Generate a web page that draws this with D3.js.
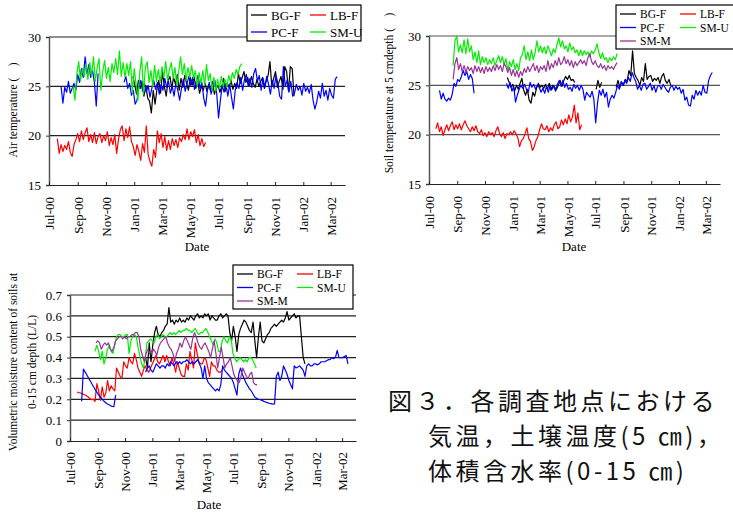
<!DOCTYPE html>
<html>
<head>
<meta charset="utf-8">
<script src="https://cdn.jsdelivr.net/npm/d3@7"></script>
<style>
  body { margin: 0; background: #fff; }
  svg { display: block; }
  .tick text { font-family: "Liberation Serif", "Times New Roman", serif; font-size: 13px; fill: #000; }
  .lbl { font-family: "Liberation Serif", "Times New Roman", serif; font-size: 13px; fill: #000; }
  .ytitle { font-family: "Liberation Serif", "Times New Roman", serif; font-size: 11.5px; fill: #000; }
  .cap { font-family: "Noto Sans CJK JP", sans-serif; font-size: 24px; letter-spacing: 3.5px; fill: #111; }
</style>
</head>
<body>
<svg id="chart" width="733" height="513"></svg>
<script>
// day 0 = 1 Jul 2000, every series is sampled every 4 days from its start day
const START = new Date(2000, 6, 1);
const END = new Date(2002, 3, 1);
const STEP = 4;
const monthTicks = ['2000-07-01', '2000-09-01', '2000-11-01', '2001-01-01', '2001-03-01', '2001-05-01',
  '2001-07-01', '2001-09-01', '2001-11-01', '2002-01-01', '2002-03-01'];

// ---- air temperature (deg C) ----
const airBGF = [26.0, 25.2, 24.2, 25.6, 24.8, 25.5, 24.0, 25.1, 23.8, 23.5,
  22.3, 24.6, 23.2, 24.7, 25.6, 24.3, 26.5, 25.0, 24.0, 25.6,
  26.0, 24.8, 25.9, 25.2, 26.2, 24.6, 25.8, 24.9, 26.1, 25.3,
  24.6, 25.9, 25.1, 26.0, 24.8, 25.5, 24.3, 25.0, 24.6, 25.3,
  24.5, 25.2, 24.5, 25.5, 24.2, 24.8, 25.1, 24.4, 25.0, 25.8,
  24.5, 25.3, 24.9, 25.6, 24.7, 25.3, 24.8, 26.3, 25.3, 25.9,
  26.5, 25.4, 25.9, 25.1, 26.0, 25.3, 24.9, 25.7, 25.0, 25.5,
  25.9, 24.8, 25.6, 26.1, 27.5, 25.0, 25.8, 26.5, 24.9, 25.5,
  26.0, 24.7, 27.0, 26.5, 24.5, 27.0, 26.8, 24.0];
const airLBF = [19.7, 18.2, 19.1, 18.4, 19.0, 18.6, 19.4, 18.3, 17.9, 19.1,
  19.6, 20.2, 19.4, 20.5, 19.6, 20.3, 20.8, 19.4, 20.1, 19.3,
  20.3, 19.2, 19.9, 20.2, 19.3, 20.0, 19.5, 20.4, 19.0, 19.8,
  19.1, 20.1, 18.2, 19.6, 20.6, 21.0, 19.5, 20.7, 19.8, 20.9,
  19.4, 18.9, 18.0, 19.1, 18.4, 17.5, 19.2, 18.3, 21.0, 18.1,
  17.4, 16.9, 18.6, 17.8, 20.5, 19.3, 20.2, 18.8, 19.9, 18.5,
  19.5, 18.6, 19.7, 19.0, 19.6, 18.8, 19.8, 19.4, 20.1, 19.6,
  20.7, 19.6, 20.4, 19.9, 20.6, 19.3, 20.1, 19.0, 19.7, 18.9,
  19.3];
const airPCF1 = [25.0, 23.3, 24.9, 24.4, 25.5, 24.3, 24.8, 25.3, 24.6, 26.2,
  25.4, 26.8, 25.9, 28.0, 26.3, 27.2, 25.9, 26.6, 25.4, 23.0, 26.3];
const airPCF2 = [25.4, 26.0, 24.8, 25.3, 24.1, 24.6, 23.2, 23.6, 24.9, 25.6,
  24.5, 25.3, 24.4, 25.1, 23.9, 24.8, 25.6, 24.7, 25.4, 24.2,
  25.2, 24.6, 25.8, 24.9, 25.5, 24.3, 25.0, 24.0, 25.4, 24.6,
  23.6, 24.8, 25.7, 24.5, 25.3, 26.0, 25.1, 25.9, 24.7, 25.5,
  26.1, 24.8, 25.4, 23.8, 23.0, 24.6, 25.4, 24.2, 25.0, 25.6,
  24.3, 21.8, 23.6, 25.1, 24.4, 25.3, 24.0, 25.2, 23.9, 22.7,
  24.6, 25.4, 24.8, 25.9, 24.6, 25.7, 26.2, 25.0, 25.8, 24.9,
  26.3, 26.8, 25.5, 26.1, 24.6, 25.8, 24.9, 26.0, 25.2, 24.2,
  25.6, 24.8, 26.1, 25.3, 24.0, 23.7, 27.0, 25.0, 25.6, 24.4,
  25.5, 24.0, 24.3, 25.2, 24.6, 25.0, 24.1, 25.3, 24.5, 24.9,
  24.3, 25.2, 23.6, 22.7, 23.4, 24.5, 23.8, 25.3, 24.0, 24.6,
  23.6, 24.8, 24.1, 23.8, 25.7, 26.0];
const airSMU = [25.0, 23.6, 26.2, 27.5, 25.6, 26.8, 26.0, 27.2, 25.7, 27.4,
  26.1, 28.0, 25.5, 26.9, 27.8, 24.6, 26.5, 27.6, 25.8, 26.9,
  25.5, 27.3, 26.4, 27.8, 26.2, 28.6, 26.0, 27.4, 25.9, 27.3,
  26.1, 27.5, 24.3, 26.8, 25.2, 23.6, 26.4, 28.0, 24.2, 26.9,
  27.5, 25.4, 26.6, 25.0, 27.1, 25.5, 26.7, 25.4, 27.0, 25.9,
  27.5, 25.6, 26.7, 27.4, 25.8, 26.9, 25.1, 26.5, 28.0, 26.2,
  27.3, 25.6, 26.9, 25.9, 27.1, 25.8, 26.6, 25.0, 26.4, 25.3,
  26.6, 25.1, 27.2, 25.6, 26.3, 24.6, 25.9, 24.5, 25.7, 24.8,
  26.0, 25.0, 25.7, 24.9, 26.1, 25.4, 26.4, 25.8, 26.7, 26.2,
  27.0, 27.3];

// ---- soil temperature at 5 cm (deg C) ----
const soilBGF1 = [25.8, 25.3, 24.8, 25.1, 24.4, 25.0, 24.6, 25.2, 25.7, 24.5,
  24.0, 24.6, 23.5, 23.2, 24.3, 23.9, 24.7, 25.2, 24.8, 25.0,
  24.7, 25.1, 24.6, 25.2, 24.5, 25.0, 24.8, 24.6, 25.0, 25.5,
  24.9, 25.5, 25.9, 25.6, 26.0, 25.5, 25.6, 25.3];
const soilBGF2 = [24.6, 25.5, 24.8, 25.3];
const soilBGF3 = [24.8, 25.5, 24.8, 25.3, 25.0, 25.6, 25.4, 26.5, 26.0, 28.5,
  26.2, 25.8, 25.5, 25.0, 25.8, 25.4, 27.2, 25.6, 25.9, 26.0,
  25.4, 25.7, 25.5, 25.8, 25.2, 25.9, 26.2, 25.5, 25.2, 25.6, 25.0];
const soilLBF = [20.6, 21.2, 20.3, 20.8, 19.9, 20.5, 21.0, 20.4, 20.9, 21.3,
  20.5, 21.0, 20.6, 21.1, 20.5, 21.0, 21.4, 20.9, 20.6, 20.3,
  20.8, 20.4, 20.9, 20.3, 20.1, 20.5, 19.9, 20.2, 19.8, 20.3,
  20.0, 20.2, 19.8, 20.4, 20.8, 20.1, 19.8, 20.2, 19.6, 20.1,
  20.0, 20.3, 20.0, 20.4, 20.1, 19.7, 18.8, 19.4, 19.6, 20.1,
  20.7, 19.6, 19.3, 18.4, 18.8, 19.4, 19.8, 20.5, 21.1, 20.6,
  20.5, 20.9, 20.3, 20.7, 20.4, 21.0, 21.3, 20.6, 20.8, 21.5,
  21.0, 21.6, 21.1, 22.0, 21.3, 21.8, 23.0, 21.2, 22.2, 20.5,
  21.0];
const soilPCF1 = [24.5, 23.6, 24.2, 23.6, 23.4, 23.7, 23.5, 24.1, 25.2, 24.9,
  25.6, 25.4, 25.9, 26.5, 26.0, 26.4, 25.6, 26.1, 25.7, 24.2];
const soilPCF2 = [25.2, 24.7, 25.3, 24.4, 24.9, 23.3, 24.0, 24.6, 25.0, 24.7,
  25.1, 24.6, 24.3, 25.3, 24.8, 25.1, 24.6, 25.0, 24.8, 24.3,
  24.7, 24.2, 24.9, 24.3, 25.0, 24.6, 24.9, 24.4, 25.1, 25.5,
  24.9, 25.5, 24.8, 25.2, 24.6, 24.8, 24.4, 25.1, 24.7, 25.0,
  24.5, 25.0, 24.6, 23.5, 24.3, 24.0, 23.8, 24.4, 23.6, 21.2,
  23.2, 24.5, 24.0, 24.6, 23.8, 24.3, 22.8, 23.6, 24.0, 23.7,
  24.3, 25.0, 24.6, 25.4, 25.0, 25.5, 25.2, 25.8, 25.4, 26.3,
  25.8, 25.4, 24.6, 25.0, 24.5, 25.1, 25.2, 24.6, 24.9, 25.2,
  24.5, 25.0, 24.3, 24.9, 25.0, 24.6, 25.1, 24.8, 24.5, 24.3,
  24.8, 25.0, 24.5, 24.9, 24.6, 24.8, 24.2, 24.6, 23.5, 23.8,
  23.0, 22.9, 24.0, 23.6, 24.5, 24.0, 24.4, 24.0, 25.0, 24.3,
  24.2, 25.5, 26.0, 26.3];
const soilSMU = [27.0, 29.5, 30.0, 28.4, 29.1, 28.3, 29.6, 28.2, 29.7, 28.4,
  29.0, 27.6, 28.4, 27.3, 28.5, 27.1, 27.9, 27.3, 27.8, 27.1,
  27.6, 27.2, 27.8, 27.0, 27.5, 28.0, 27.3, 27.9, 27.1, 27.7,
  26.5, 27.4, 26.9, 27.6, 26.6, 27.2, 26.5, 27.8, 28.1, 29.0,
  27.6, 28.4, 27.5, 28.6, 27.6, 28.3, 29.5, 28.4, 29.0, 28.3,
  28.9, 28.2, 29.0, 28.5, 28.0, 28.7, 28.3, 29.1, 29.8, 28.9,
  29.5, 28.7, 29.0, 28.4, 29.3, 28.6, 28.9, 28.3, 28.6, 28.0,
  28.6, 28.0, 28.5, 28.1, 28.4, 27.9, 28.5, 28.2, 28.6, 29.2,
  28.3, 27.7, 28.3, 27.6, 27.8, 27.3, 27.8, 27.5, 27.9, 27.6,
  28.2];
const soilSMM = [25.6, 27.2, 27.8, 26.6, 27.2, 26.4, 27.0, 26.3, 26.9, 26.5,
  26.8, 26.2, 27.0, 26.4, 26.9, 26.3, 26.8, 26.2, 26.9, 26.4,
  26.8, 26.4, 27.0, 26.5, 27.1, 26.6, 27.0, 26.4, 27.2, 26.9,
  26.3, 26.8, 26.0, 26.6, 25.9, 26.5, 25.8, 26.4, 26.0, 26.7,
  26.3, 26.9, 26.4, 26.8, 27.2, 26.5, 27.0, 26.3, 26.9, 26.6,
  27.0, 26.4, 27.5, 26.6, 27.2, 26.8, 27.5, 27.0, 27.8, 27.1,
  27.3, 27.9, 27.2, 27.6, 27.0, 27.5, 26.8, 27.4, 27.0, 27.3,
  27.6, 27.2, 27.5, 27.0, 27.8, 28.2, 27.4, 27.1, 27.5, 27.0,
  26.8, 27.2, 26.7, 27.0, 26.5, 27.0, 26.7, 26.9, 26.6, 27.0,
  27.3];

// ---- volumetric moisture content 0-15 cm (L/L) ----
const moistBGF = [0.40, 0.35, 0.47, 0.38, 0.46, 0.52, 0.55, 0.51, 0.50, 0.52,
  0.53, 0.55, 0.56, 0.64, 0.57, 0.58, 0.56, 0.58, 0.57, 0.59,
  0.57, 0.58, 0.57, 0.59, 0.58, 0.60, 0.59, 0.58, 0.60, 0.61,
  0.59, 0.60, 0.59, 0.61, 0.60, 0.61, 0.58, 0.60, 0.59, 0.58,
  0.58, 0.60, 0.61, 0.59, 0.60, 0.61, 0.60, 0.52, 0.48, 0.55,
  0.50, 0.43, 0.51, 0.54, 0.56, 0.58, 0.57, 0.55, 0.53, 0.52,
  0.57, 0.48, 0.40, 0.50, 0.57, 0.48, 0.47, 0.49, 0.51, 0.52,
  0.54, 0.55, 0.56, 0.55, 0.56, 0.57, 0.58, 0.57, 0.59, 0.62,
  0.58, 0.59, 0.60, 0.61, 0.59, 0.60, 0.60, 0.50, 0.40, 0.37];
const moistLBF = [0.235, 0.232, 0.23, 0.226, 0.222, 0.218, 0.212, 0.205, 0.198, 0.20,
  0.19, 0.275, 0.24, 0.195, 0.26, 0.21, 0.23, 0.29, 0.24, 0.265,
  0.25, 0.24, 0.35, 0.33, 0.31, 0.30, 0.38, 0.36, 0.35, 0.40,
  0.38, 0.37, 0.42, 0.39, 0.35, 0.33, 0.31, 0.34, 0.36, 0.34,
  0.33, 0.35, 0.37, 0.39, 0.41, 0.38, 0.37, 0.39, 0.41, 0.38,
  0.41, 0.38, 0.36, 0.40, 0.37, 0.33, 0.38, 0.35, 0.32, 0.31,
  0.31, 0.37, 0.34, 0.43, 0.39, 0.35, 0.47, 0.42, 0.38, 0.37,
  0.37, 0.40, 0.39, 0.35, 0.31, 0.38, 0.36, 0.36, 0.34, 0.33,
  0.33, 0.34];
const moistPCF1 = [0.19, 0.345, 0.33, 0.315, 0.30, 0.285, 0.27, 0.255, 0.24, 0.228,
  0.215, 0.205, 0.195, 0.187, 0.18, 0.175, 0.17, 0.166, 0.165, 0.22];
const moistPCF2 = [0.33, 0.35, 0.36, 0.34, 0.33, 0.35, 0.37, 0.36, 0.35, 0.36,
  0.36, 0.35, 0.37, 0.36, 0.38, 0.37, 0.36, 0.38, 0.37, 0.38,
  0.37, 0.38, 0.38, 0.39, 0.38, 0.37, 0.38, 0.37, 0.38, 0.39,
  0.37, 0.35, 0.30, 0.36, 0.30, 0.28, 0.27, 0.26, 0.25, 0.24,
  0.25, 0.24, 0.27, 0.36, 0.34, 0.33, 0.32, 0.31, 0.30, 0.28,
  0.25, 0.22, 0.32, 0.35, 0.32, 0.30, 0.28, 0.265, 0.25, 0.24,
  0.225, 0.21, 0.205, 0.20, 0.198, 0.195, 0.19, 0.187, 0.184, 0.181,
  0.179, 0.177, 0.178, 0.31, 0.33, 0.29, 0.31, 0.36, 0.34, 0.32,
  0.29, 0.27, 0.25, 0.36, 0.35, 0.355, 0.36, 0.35, 0.34, 0.31,
  0.36, 0.37, 0.36, 0.36, 0.37, 0.37, 0.365, 0.37, 0.38, 0.38,
  0.38, 0.385, 0.39, 0.39, 0.40, 0.395, 0.40, 0.435, 0.40, 0.40,
  0.40, 0.405, 0.41, 0.37];
const moistSMU = [0.43, 0.46, 0.43, 0.39, 0.43, 0.37, 0.40, 0.44, 0.46, 0.43,
  0.42, 0.46, 0.50, 0.51, 0.51, 0.50, 0.50, 0.51, 0.51, 0.42,
  0.48, 0.50, 0.51, 0.50, 0.45, 0.41, 0.37, 0.35, 0.40, 0.47,
  0.48, 0.49, 0.48, 0.47, 0.50, 0.51, 0.49, 0.50, 0.51, 0.50,
  0.50, 0.51, 0.52, 0.51, 0.52, 0.51, 0.52, 0.53, 0.52, 0.53,
  0.53, 0.54, 0.53, 0.53, 0.52, 0.53, 0.54, 0.52, 0.51, 0.52,
  0.52, 0.53, 0.54, 0.52, 0.50, 0.48, 0.46, 0.49, 0.47, 0.43,
  0.43, 0.48, 0.50, 0.48, 0.47, 0.50, 0.49, 0.42, 0.40, 0.38,
  0.39, 0.40, 0.39, 0.38, 0.39, 0.38, 0.40, 0.40, 0.39, 0.37,
  0.35];
const moistSMM = [0.47, 0.48, 0.47, 0.44, 0.46, 0.47, 0.46, 0.47, 0.44, 0.43,
  0.45, 0.48, 0.49, 0.50, 0.50, 0.49, 0.50, 0.49, 0.50, 0.50,
  0.51, 0.51, 0.52, 0.52, 0.50, 0.44, 0.41, 0.38, 0.42, 0.44,
  0.42, 0.43, 0.44, 0.43, 0.41, 0.45, 0.47, 0.48, 0.49, 0.50,
  0.47, 0.45, 0.44, 0.42, 0.38, 0.42, 0.44, 0.47, 0.45, 0.48,
  0.50, 0.48, 0.46, 0.44, 0.49, 0.52, 0.50, 0.47, 0.45, 0.44,
  0.46, 0.47, 0.45, 0.43, 0.40, 0.44, 0.48, 0.42, 0.35, 0.40,
  0.45, 0.40, 0.35, 0.37, 0.38, 0.40, 0.36, 0.32, 0.30, 0.29,
  0.28, 0.31, 0.35, 0.33, 0.31, 0.30, 0.32, 0.33, 0.28, 0.27,
  0.27];

const COLORS = { 'BG-F': '#000000', 'LB-F': '#ff0000', 'PC-F': '#0000ff', 'SM-U': '#00ee00', 'SM-M': '#993399' };

// [site, start day, values]
const airSeries = [['BG-F', 181, airBGF], ['LB-F', 18, airLBF], ['PC-F', 26, airPCF1], ['PC-F', 162, airPCF2], ['SM-U', 52, airSMU]];
const soilSeries = [['BG-F', 172, soilBGF1], ['BG-F', 367, soilBGF2], ['BG-F', 411, soilBGF3], ['LB-F', 15, soilLBF],
  ['PC-F', 23, soilPCF1], ['PC-F', 170, soilPCF2], ['SM-U', 53, soilSMU], ['SM-M', 53, soilSMM]];
const moistSeries = [['BG-F', 169, moistBGF], ['LB-F', 16, moistLBF], ['PC-F', 26, moistPCF1], ['PC-F', 169, moistPCF2],
  ['SM-U', 56, moistSMU], ['SM-M', 58, moistSMM]];

const svg = d3.select('#chart');
const parse = d3.timeParse('%Y-%m-%d');
const fmt = d3.timeFormat('%b-%y');

function toPoints(startDay, values) {
  return values.map((v, i) => ({ date: d3.timeDay.offset(START, startDay + i * STEP), v: v }));
}

function drawPanel(cfg) {
  const x = d3.scaleTime().domain([START, END]).range([cfg.left, cfg.right]);
  const y = d3.scaleLinear().domain(cfg.yDomain).range([cfg.bottom, cfg.top]);
  const g = svg.append('g');

  // gridlines
  g.selectAll('.grid').data(cfg.grid).enter().append('line')
    .attr('x1', cfg.left).attr('x2', cfg.right)
    .attr('y1', (d) => y(d)).attr('y2', (d) => y(d))
    .attr('stroke', cfg.gridColor).attr('stroke-width', 1.2);

  const yAxis = g.append('g').attr('transform', `translate(${cfg.left},0)`)
    .call(d3.axisLeft(y).tickValues(cfg.yTicks).tickFormat(cfg.yFormat).tickSize(3).tickPadding(5));
  yAxis.select('.domain').attr('stroke', '#555').attr('stroke-width', 1.5);
  yAxis.selectAll('.tick line').attr('stroke', '#333');

  const xAxis = g.append('g').attr('transform', `translate(0,${cfg.bottom})`)
    .call(d3.axisBottom(x).tickValues(monthTicks.map(parse)).tickFormat(fmt).tickSizeInner(-3).tickSizeOuter(0));
  xAxis.select('.domain').attr('stroke', '#222').attr('stroke-width', 1.2);
  xAxis.selectAll('.tick line').attr('stroke', '#222');
  xAxis.selectAll('.tick text')
    .attr('transform', 'rotate(-90)')
    .attr('text-anchor', 'end')
    .attr('x', -cfg.labelGap).attr('y', 0).attr('dy', '0.35em');

  const line = d3.line().x((d) => x(d.date)).y((d) => y(d.v));
  cfg.series.forEach(([site, start, values]) => {
    g.append('path').datum(toPoints(start, values))
      .attr('d', line).attr('fill', 'none')
      .attr('stroke', COLORS[site]).attr('stroke-width', 1.2).attr('stroke-linejoin', 'round');
  });

  // axis titles
  cfg.yTitle.forEach((t, i) => {
    g.append('text').attr('class', 'ytitle')
      .attr('transform', `translate(${cfg.yTitleX[i]},${cfg.yTitleY}) rotate(-90)`)
      .attr('text-anchor', 'middle').attr('dy', '0.35em').text(t);
  });
  g.append('text').attr('class', 'lbl').attr('x', cfg.dateX).attr('y', cfg.dateY)
    .attr('text-anchor', 'middle').text('Date');

  // legend
  const lg = cfg.legend;
  g.append('rect').attr('x', lg.x).attr('y', lg.y).attr('width', lg.w).attr('height', lg.h)
    .attr('fill', '#fff').attr('stroke', '#000').attr('stroke-width', 1.2);
  lg.items.forEach((site, i) => {
    const col = i % 2, row = Math.floor(i / 2);
    const lx = lg.x + 4 + col * lg.colW;
    const ly = lg.y + lg.rowTop + row * lg.rowH;
    g.append('line').attr('x1', lx).attr('x2', lx + 16).attr('y1', ly).attr('y2', ly)
      .attr('stroke', COLORS[site]).attr('stroke-width', 1.3);
    g.append('text').attr('class', 'lbl').style('font-size', lg.font + 'px')
      .attr('x', lx + 20).attr('y', ly).attr('dy', '0.35em').text(site);
  });
}

drawPanel({
  left: 49, right: 345, top: 37, bottom: 185, yDomain: [15, 30],
  grid: [20, 25, 30], gridColor: '#222', yTicks: [15, 20, 25, 30], yFormat: d3.format('d'), labelGap: 12,
  series: airSeries,
  yTitle: ['Air temperature (\u2003)'], yTitleX: [13], yTitleY: 110, dateX: 197, dateY: 251,
  legend: { x: 247, y: 5, w: 114, h: 36, colW: 59, rowTop: 10, rowH: 17, font: 13, items: ['BG-F', 'LB-F', 'PC-F', 'SM-U'] }
});

drawPanel({
  left: 429, right: 720, top: 36, bottom: 184, yDomain: [15, 30],
  grid: [20, 25, 30], gridColor: '#555', yTicks: [15, 20, 25, 30], yFormat: d3.format('d'), labelGap: 12,
  series: soilSeries,
  yTitle: ['Soil temperature at 5 cmdepth (\u2003)'], yTitleX: [389], yTitleY: 93, dateX: 574, dateY: 251,
  legend: { x: 616, y: 5, w: 130, h: 44, colW: 60, rowTop: 9, rowH: 13.5, font: 11.5, items: ['BG-F', 'LB-F', 'PC-F', 'SM-U', 'SM-M'] }
});

drawPanel({
  left: 70, right: 356, top: 295, bottom: 441, yDomain: [0, 0.7],
  grid: [0.1, 0.2, 0.3, 0.4, 0.5, 0.6, 0.7], gridColor: '#222', yTicks: [0, 0.1, 0.2, 0.3, 0.4, 0.5, 0.6, 0.7],
  yFormat: (d) => (d === 0 ? '0' : d3.format('.1f')(d)), labelGap: 11,
  series: moistSeries,
  yTitle: ['Volumetric moisture content of soils at', '0-15 cm depth (L/L)'], yTitleX: [13, 32], yTitleY: 362,
  dateX: 209, dateY: 509,
  legend: { x: 233, y: 265, w: 120, h: 44, colW: 60, rowTop: 9, rowH: 13.5, font: 11.5, items: ['BG-F', 'LB-F', 'PC-F', 'SM-U', 'SM-M'] }
});

// caption
const caption = ['図３．各調査地点における', '気温，土壌温度(5 ㎝)，', '体積含水率(0-15 ㎝)'];
const capX = [388, 428, 428];
const capY = [401, 436, 471];
svg.selectAll('.cap').data(caption).enter().append('text').attr('class', 'cap')
  .attr('x', (d, i) => capX[i]).attr('y', (d, i) => capY[i]).attr('dy', '0.36em').text((d) => d);
</script>
</body>
</html>
